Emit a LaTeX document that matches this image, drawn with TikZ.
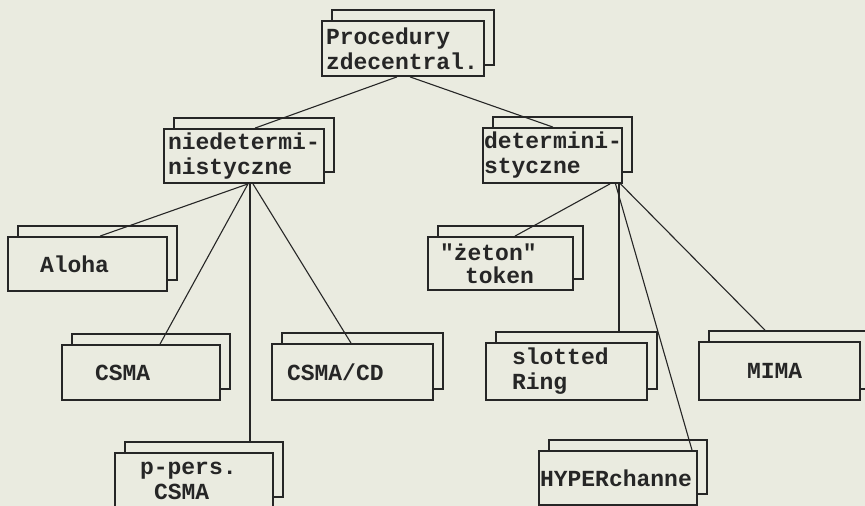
\documentclass[tikz,border=0pt]{standalone}
\usepackage{fontspec}
\setmonofont{Liberation Mono}
\usetikzlibrary{shadows}
\definecolor{paper}{HTML}{EAEBE0}
\definecolor{ink}{HTML}{262626}

\begin{document}
\begin{tikzpicture}[x=1pt, y=-1pt, box/.style={draw=ink, line width=1.8pt, fill=paper, text=ink, align=left, inner ysep=0pt, minimum height=55pt, font=\ttfamily\bfseries\fontsize{23}{25}\selectfont, copy shadow={shadow xshift=10pt, shadow yshift=11pt, draw=ink, fill=paper, line width=1.8pt}}, n/.style={draw=ink, line width=1.1pt}]
            \useasboundingbox[fill=paper] (0,0) rectangle (865,506);
            \clip (0,0) rectangle (865,506);
            % nodes
            \node[box, text width=154pt, inner xsep=4pt] (proc) at (403,48.5) {Procedury\\zdecentral.};

            \node[box, text width=152pt, inner xsep=4pt, minimum height=54pt] (niedet) at (244,156) {niedetermi-\\nistyczne};
            \node[box, text width=137pt, inner xsep=1pt] (det) at (552.5,155.5) {determini-\\styczne};

            \node[box, text width=95pt, inner xsep=32pt, minimum height=54pt] (aloha) at (87.5,264) {Aloha};
            \node[box, text width=92pt, inner xsep=33pt] (csma) at (141,372.5) {CSMA};
            \node[box, text width=131pt, inner xsep=15pt, minimum height=56pt] (csmacd) at (352.5,372) {CSMA/CD};
            \node[box, text width=108pt, inner xsep=25pt] (ppers) at (194,480.5) {p-pers.\\\hspace*{14pt}CSMA};

            \node[box, text width=121pt, inner xsep=12pt, minimum height=53pt] (zeton) at (500.5,263.5) {"żeton"\\[-2pt]\hspace*{25pt}token};
            \node[box, text width=109pt, inner xsep=26pt, minimum height=57pt] (slotted) at (566.5,371.5) {slotted\\Ring};
            \node[box, text width=156pt, inner xsep=1pt, minimum height=54pt] (hyper) at (618,478) {HYPERchanne};
            \node[box, text width=65pt, inner xsep=48pt, minimum height=58pt] (mima) at (779.5,371) {MIMA};
            % edges
            \draw [n] ([xshift=-6pt]proc.south) -- ([xshift=11pt]niedet.north);
            \draw [n] ([xshift=7pt]proc.south) -- ([xshift=0.5pt]det.north);

            \draw [n] ([xshift=4pt]niedet.south) -- ([xshift=12.5pt]aloha.north);
            \draw [n] ([xshift=4pt]niedet.south) -- ([xshift=19pt]csma.north);
            \draw [n] ([xshift=6pt]niedet.south) -- ([xshift=56pt, yshift=11pt]ppers.north);
            \draw [n] ([xshift=9pt]niedet.south) -- ([xshift=-1.5pt]csmacd.north);

            \draw [n] ([xshift=57.5pt]det.south) -- ([xshift=14.5pt]zeton.north);
            \draw [n] ([xshift=66.5pt]det.south) -- ([xshift=52.5pt, yshift=11pt]slotted.north);
            \draw [n] ([xshift=63pt]det.south) -- ([xshift=74pt]hyper.north);
            \draw [n] ([xshift=68pt]det.south) -- ([xshift=-14.5pt, yshift=11pt]mima.north);
        \end{tikzpicture}
\end{document}
